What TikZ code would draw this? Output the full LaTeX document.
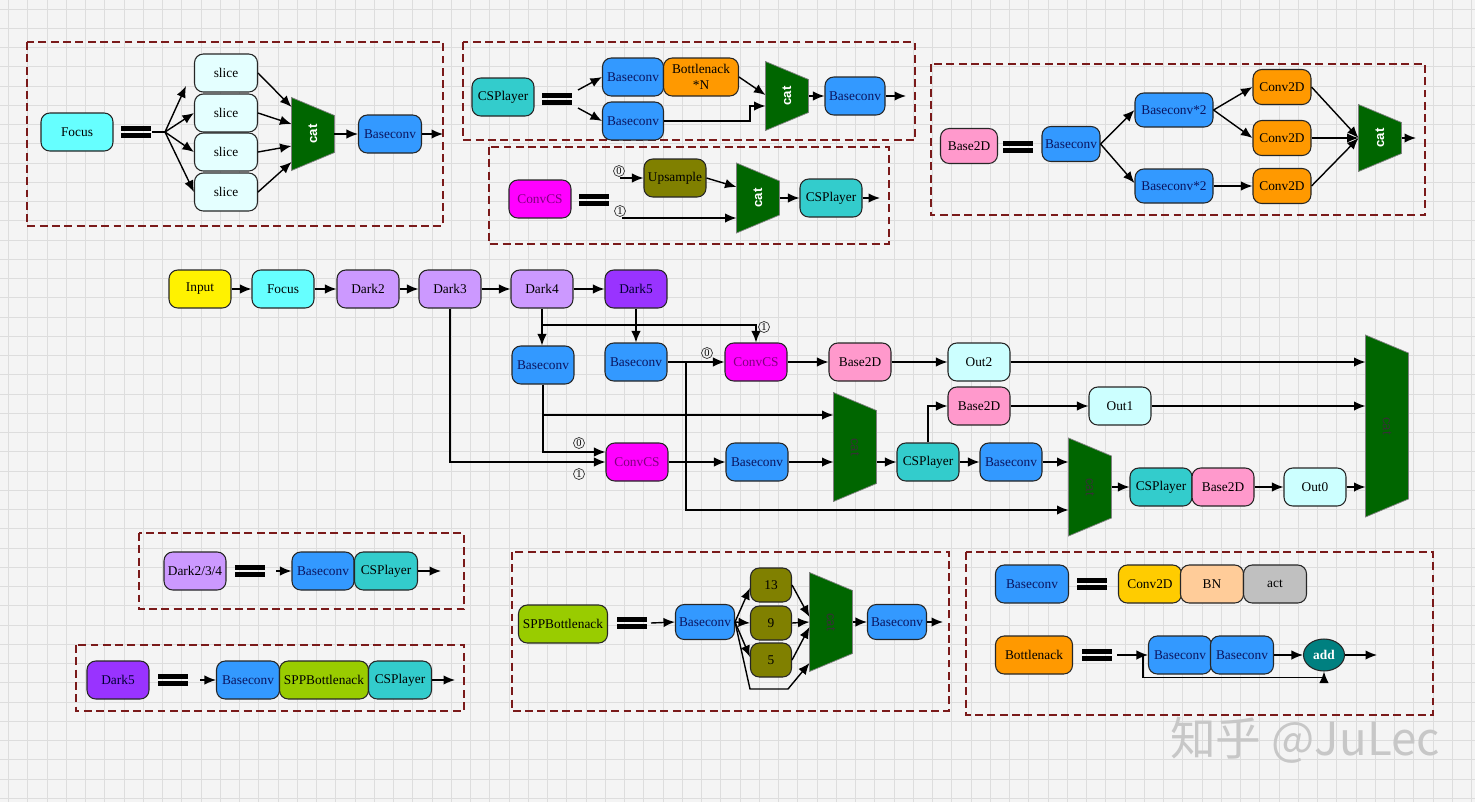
\documentclass[tikz,border=0pt]{standalone}
\usepackage{fontspec}
\setmainfont{Liberation Serif}
\setsansfont{Liberation Sans}
\newfontfamily\cjkfont{Noto Sans CJK SC}
\usetikzlibrary{arrows.meta,calc,shapes.geometric}

\definecolor{bgcol}{HTML}{F4F4F4}
\definecolor{gridcol}{HTML}{DDDDDD}
\definecolor{framecol}{HTML}{7A1A1A}
\definecolor{convblue}{HTML}{3399FF}
\definecolor{navytxt}{HTML}{0A1560}
\definecolor{cspteal}{HTML}{33CCCC}
\definecolor{bneck}{HTML}{FF9900}
\definecolor{catgreen}{HTML}{006600}
\definecolor{magfill}{HTML}{FF00FF}
\definecolor{magtxt}{HTML}{800080}
\definecolor{upolive}{HTML}{808000}
\definecolor{pinkb}{HTML}{FF99CC}
\definecolor{slicecol}{HTML}{E4FFFF}
\definecolor{focuscol}{HTML}{66FFFF}
\definecolor{darkcol}{HTML}{CC99FF}
\definecolor{dark5col}{HTML}{9933FF}
\definecolor{outcol}{HTML}{CCFFFF}
\definecolor{sppcol}{HTML}{99CC00}
\definecolor{goldcol}{HTML}{FFCC00}
\definecolor{bncol}{HTML}{FFCC99}
\definecolor{actcol}{HTML}{C0C0C0}
\definecolor{addcol}{HTML}{008080}

% trapezoid "cat" block: name, x, y, height, label style
\newcommand\catnode[5]{%
\node[catblk,minimum height=#4] (#1) at (#2,#3) {};
\filldraw[fill=catgreen,draw=black!50,line width=0.4pt] (#1.north west) -- ([yshift=-0.36cm]#1.north east) -- ([yshift=0.36cm]#1.south east) -- (#1.south west) -- cycle;
\node[#5] at (#1.center) {cat};}
% the "==" sign
\newcommand\eqbar[2]{%
\fill (#1-15,#2-6) rectangle (#1+15,#2-0.8);
\fill (#1-15,#2+0.8) rectangle (#1+15,#2+6);}

\begin{document}
\begin{tikzpicture}[x=0.02cm,y=-0.02cm,>={Latex[length=2.3mm,width=1.9mm]},
  blk/.style={draw=black!85,line width=0.6pt,rounded corners=5pt,minimum width=1.24cm,minimum height=0.76cm,inner sep=1pt,align=center,font=\fontsize{7.6}{9}\selectfont},
  bconv/.style={blk,fill=convblue,text=navytxt},
  csp/.style={blk,fill=cspteal},
  b2d/.style={blk,fill=pinkb},
  outn/.style={blk,fill=outcol},
  drk/.style={blk,fill=darkcol},
  convcs/.style={blk,fill=magfill,text=magtxt},
  catblk/.style={minimum width=0.86cm,inner sep=0pt,outer sep=0pt},
  catup/.style={rotate=90,font=\sffamily\bfseries\fontsize{7.5}{8}\selectfont,text=white},
  catdn/.style={rotate=-90,font=\sffamily\fontsize{7.5}{8}\selectfont,text=black!80},
  dashbox/.style={draw=framecol,dash pattern=on 4.5pt off 2.5pt,line width=0.6pt},
  wire/.style={line width=0.8pt,->},
  link/.style={line width=0.8pt},
  numlbl/.style={circle,draw=black!80,line width=0.4pt,inner sep=0pt,minimum size=0.22cm,font=\fontsize{6}{6}\selectfont}]
\useasboundingbox (0,0) rectangle (1475,802);
\fill[bgcol] (0,0) rectangle (1475,802);
\foreach \gx in {0,...,76} \draw[gridcol,line width=0.4pt] (8.5+\gx*19.25,0) -- (8.5+\gx*19.25,802);
\foreach \gy in {0,...,41} \draw[gridcol,line width=0.4pt] (0,9+\gy*19.25) -- (1475,9+\gy*19.25);

% Focus block
\draw[dashbox] (27,42) rectangle (443,226);
\node[blk,fill=focuscol,minimum width=1.44cm] (f0) at (77,132) {Focus};
\eqbar{136}{132}
\coordinate (q0) at (152,132);
\coordinate (j0) at (165,132);
\node[blk,fill=slicecol,minimum width=1.26cm] (s0) at (226,73) {slice};
\node[blk,fill=slicecol,minimum width=1.26cm] (s1) at (226,113) {slice};
\node[blk,fill=slicecol,minimum width=1.26cm] (s2) at (226,152) {slice};
\node[blk,fill=slicecol,minimum width=1.26cm] (s3) at (226,192) {slice};
\catnode{c0}{313}{134}{1.46cm}{catup}
\node[bconv,minimum width=1.26cm] (fb) at (390,134) {Baseconv};
\coordinate (e0) at (443,134);
\draw[link] (q0) -- (j0);
\draw[wire] (j0) -- ($(s0.west)+(-8,13)$);
\draw[wire] (j0) -- (s1.west);
\draw[wire] (j0) -- (s2.west);
\draw[wire] (j0) -- (s3.west);
\draw[wire] (s0.east) -- ($(c0.west)+(0,-27)$);
\draw[wire] (s1.east) -- ($(c0.west)+(0,-10)$);
\draw[wire] (s2.east) -- ($(c0.west)+(0,12)$);
\draw[wire] (s3.east) -- ($(c0.west)+(0,28)$);
\draw[wire] (c0.east) -- (fb.west);
\draw[wire] (fb.east) -- (e0);

% CSPlayer block
\draw[dashbox] (463,42) rectangle (915,140);
\node[csp] (cp0) at (503,97) {CSPlayer};
\eqbar{557}{99}
\coordinate (q1) at (578,90);
\coordinate (q2) at (578,108);
\node[bconv,minimum width=1.22cm] (cb0) at (633,77) {Baseconv};
\node[blk,fill=bneck,minimum width=1.5cm] (bn0) at (701,77) {Bottlenack\\*N};
\node[bconv,minimum width=1.22cm] (cb1) at (633,121) {Baseconv};
\catnode{c1}{787}{96}{1.38cm}{catup}
\node[bconv,minimum width=1.2cm] (cb2) at (855,96) {Baseconv};
\coordinate (e1) at (906,96);
\draw[wire] (q1) -- (cb0.west);
\draw[wire] (q2) -- (cb1.west);
\draw[wire] (bn0.east) -- ($(c1.west)+(0,-1)$);
\draw[wire] (cb1.east) -- (750,121) |- ($(c1.west)+(0,10)$);
\draw[wire] (c1.east) -- (cb2.west);
\draw[wire] (cb2.east) -- (e1);

% ConvCS block
\draw[dashbox] (489,147) rectangle (889,244);
\node[convcs] (cs0) at (540,199) {ConvCS};
\eqbar{594}{200}
\node[numlbl] (n0) at (619,171) {0};
\node[numlbl] (n1) at (620,211) {1};
\coordinate (i0) at (620,178);
\coordinate (i1) at (622,218);
\node[blk,fill=upolive] (up0) at (675,178) {Upsample};
\catnode{c2}{758}{198}{1.4cm}{catup}
\node[csp] (cp1) at (831,198) {CSPlayer};
\coordinate (e2) at (880,198);
\draw[wire] (i0) -- (up0.west);
\draw[wire] (up0.east) -- ($(c2.west)+(0,-11)$);
\draw[wire] (i1) -- (i1 -| c2.west);
\draw[wire] (c2.east) -- (cp1.west);
\draw[wire] (cp1.east) -- (e2);

% Base2D block
\draw[dashbox] (931,64) rectangle (1425,215);
\node[b2d,minimum width=1.14cm,minimum height=0.7cm] (bd0) at (969,146) {Base2D};
\eqbar{1018}{147}
\node[bconv,minimum width=1.16cm,minimum height=0.7cm] (bc3) at (1071,144) {Baseconv};
\node[bconv,minimum width=1.56cm,minimum height=0.68cm] (bx0) at (1174,110) {Baseconv*2};
\node[bconv,minimum width=1.56cm,minimum height=0.68cm] (bx1) at (1174,186) {Baseconv*2};
\node[blk,fill=bneck,minimum width=1.16cm,minimum height=0.7cm] (cv0) at (1282,87) {Conv2D};
\node[blk,fill=bneck,minimum width=1.16cm,minimum height=0.7cm] (cv1) at (1282,138) {Conv2D};
\node[blk,fill=bneck,minimum width=1.16cm,minimum height=0.7cm] (cv2) at (1282,186) {Conv2D};
\catnode{c3}{1380}{138}{1.34cm}{catup}
\coordinate (e3) at (1416,138);
\draw[wire] (bc3.east) -- (bx0.west);
\draw[wire] (bc3.east) -- ($(bx1.west)+(0,-3)$);
\draw[wire] (bx0.east) -- (cv0.west);
\draw[wire] (bx0.east) -- (cv1.west);
\draw[wire] (bx1.east) -- (cv2.west);
\draw[wire] (cv0.east) -- (c3.west);
\draw[wire] (cv1.east) -- (c3.west);
\draw[wire] (cv2.east) -- (c3.west);
\draw[wire] (c3.east) -- (e3);

% backbone and head
\node[blk,fill=yellow] (in0) at (200,289) {Input};
\node[blk,fill=focuscol] (fo1) at (283,289) {Focus};
\node[drk] (dk2) at (368,289) {Dark2};
\node[drk] (dk3) at (450,289) {Dark3};
\node[drk] (dk4) at (542,289) {Dark4};
\node[blk,fill=dark5col,text=black!80!blue] (dk5) at (636,289) {Dark5};
\node[bconv] (ba) at (543,365) {Baseconv};
\node[bconv] (bb) at (636,362) {Baseconv};
\node[convcs] (cc0) at (756,362) {ConvCS};
\node[b2d] (b2a) at (860,362) {Base2D};
\node[outn] (o2) at (979,362) {Out2};
\node[convcs] (cc1) at (637,462) {ConvCS};
\node[bconv] (bc) at (757,462) {Baseconv};
\catnode{k1}{855}{447}{2.18cm}{catdn}
\node[csp] (cp2) at (928,462) {CSPlayer};
\node[b2d] (b2b) at (979,406) {Base2D};
\node[outn] (o1) at (1120,406) {Out1};
\node[bconv] (bd) at (1011,462) {Baseconv};
\catnode{k2}{1090}{487}{1.96cm}{catdn}
\node[csp] (cp3) at (1161,487) {CSPlayer};
\node[b2d] (b2c) at (1223,487) {Base2D};
\node[outn] (o0) at (1315,487) {Out0};
\catnode{k3}{1387}{426}{3.64cm}{catdn}
\node[numlbl] (n2) at (764,327) {1};
\node[numlbl] (n3) at (707,353) {0};
\node[numlbl] (n4) at (579,443) {0};
\node[numlbl] (n5) at (579,474) {1};
\coordinate (t0) at (542,325);
\coordinate (t1) at (686,362);
\draw[wire] (in0) -- (fo1);
\draw[wire] (fo1) -- (dk2);
\draw[wire] (dk2) -- (dk3);
\draw[wire] (dk3) -- (dk4);
\draw[wire] (dk4) -- (dk5);
\draw[wire] (dk4.south) -- (dk4.south |- ba.north);
\draw[wire] (t0) -| (cc0.north);
\draw[wire] (dk5) -- (bb);
\draw[wire] (bb) -- (cc0);
\draw[wire] (t1) |- ($(k2.west)+(0,23)$);
\draw[wire] (cc0) -- (b2a);
\draw[wire] (b2a) -- (o2);
\draw[wire] (o2) -- (o2 -| k3.west);
\draw[wire] (ba.south) |- ($(k1.west)+(0,-32)$);
\draw[wire] (ba.south) |- ($(cc1.west)+(0,-10)$);
\draw[wire] (dk3.south) |- (cc1.west);
\draw[wire] (cc1) -- (bc);
\draw[wire] (bc) -- (bc -| k1.west);
\draw[wire] (k1.east |- cp2) -- (cp2.west);
\draw[wire] (cp2.north) |- (b2b.west);
\draw[wire] (b2b) -- (o1);
\draw[wire] (o1) -- (o1 -| k3.west);
\draw[wire] (cp2) -- (bd);
\draw[wire] (bd) -- (bd -| k2.west);
\draw[wire] (k2.east) -- (cp3.west);
\draw[wire] (b2c) -- (o0);
\draw[wire] (o0) -- (o0 -| k3.west);

% Dark2/3/4 block
\draw[dashbox] (139,533) rectangle (464,609);
\node[drk] (dd) at (195,571) {Dark2/3/4};
\eqbar{250}{571}
\coordinate (q3) at (276,571);
\node[bconv] (be) at (323,571) {Baseconv};
\node[csp,minimum width=1.26cm] (cp4) at (386,571) {CSPlayer};
\coordinate (e4) at (441,571);
\draw[wire] (q3) -- (be.west);
\draw[wire] (cp4.east) -- (e4);

% Dark5 block
\draw[dashbox] (76,645) rectangle (464,711);
\node[blk,fill=dark5col,text=black!80!blue] (d5b) at (118,680) {Dark5};
\eqbar{173}{680}
\coordinate (q4) at (200,680);
\node[bconv,minimum width=1.26cm] (bf) at (248,680) {Baseconv};
\node[blk,fill=sppcol,minimum width=1.78cm] (sp0) at (324,680) {SPPBottlenack};
\node[csp,minimum width=1.26cm] (cp5) at (400,680) {CSPlayer};
\coordinate (e5) at (455,680);
\draw[wire] (q4) -- (bf.west);
\draw[wire] (cp5.east) -- (e5);

% SPPBottlenack block
\draw[dashbox] (512,552) rectangle (949,711);
\node[blk,fill=sppcol,minimum width=1.78cm] (sp1) at (563,624) {SPPBottlenack};
\eqbar{632}{623}
\coordinate (q5) at (651,623);
\node[bconv,minimum width=1.18cm,minimum height=0.7cm] (bs1) at (705,622) {Baseconv};
\node[blk,fill=upolive,minimum width=0.82cm,minimum height=0.68cm] (m13) at (771,585) {13};
\node[blk,fill=upolive,minimum width=0.82cm,minimum height=0.68cm] (m9) at (771,623) {9};
\node[blk,fill=upolive,minimum width=0.82cm,minimum height=0.68cm] (m5) at (771,660) {5};
\catnode{k4}{831}{622}{1.98cm}{catdn}
\node[bconv,minimum width=1.18cm,minimum height=0.7cm] (bs2) at (897,622) {Baseconv};
\coordinate (e6) at (943,622);
\coordinate (w0) at (750,689);
\coordinate (w1) at (788,689);
\draw[wire] (q5) -- (bs1.west);
\draw[wire] (bs1.east) -- ($(m13.west)+(0,3)$);
\draw[wire] (bs1.east) -- (m9.west);
\draw[wire] (bs1.east) -- ($(m5.west)+(0,-3)$);
\draw[wire] (bs1.east) -- (w0) -- (w1) -- ($(k4.west)+(0,41)$);
\draw[wire] (m13.east) -- ($(k4.west)+(0,-5)$);
\draw[wire] (m9.east) -- (k4.west);
\draw[wire] (m5.east) -- ($(k4.west)+(0,5)$);
\draw[wire] (k4.east) -- (bs2.west);
\draw[wire] (bs2.east) -- (e6);

% Baseconv / Bottlenack block
\draw[dashbox] (966,552) rectangle (1433,715);
\node[bconv,minimum width=1.46cm] (bg) at (1032,584) {Baseconv};
\eqbar{1092}{584}
\node[blk,fill=goldcol,minimum width=1.26cm] (cz) at (1150,584) {Conv2D};
\node[blk,fill=bncol,minimum width=1.26cm] (bn) at (1212,584) {BN};
\node[blk,fill=actcol,minimum width=1.26cm] (ac) at (1275,584) {act};
\node[blk,fill=bneck,minimum width=1.54cm] (bk) at (1034,655) {Bottlenack};
\eqbar{1097}{655}
\coordinate (q6) at (1117,655);
\coordinate (t2) at (1143,655);
\node[bconv,minimum width=1.26cm] (bh1) at (1180,655) {Baseconv};
\node[bconv,minimum width=1.26cm] (bh2) at (1242,655) {Baseconv};
\node[ellipse,draw=black!85,line width=0.6pt,fill=addcol,text=white,minimum width=0.82cm,minimum height=0.64cm,inner sep=0pt,font=\bfseries\fontsize{7.6}{9}\selectfont] (ad) at (1324,655) {add};
\coordinate (e7) at (1377,655);
\draw[wire] (q6) -- (bh1.west);
\draw[wire] (t2) |- ($(ad.south)+(0,6)$) -- (ad.south);
\draw[wire] (bh2.east) -- (ad.west);
\draw[wire] (ad.east) -- (e7);

\node[text=black!22,font=\cjkfont\fontsize{26}{28}\selectfont] (wm) at (1305,740) {知乎 @JuLec};
\end{tikzpicture}
\end{document}
